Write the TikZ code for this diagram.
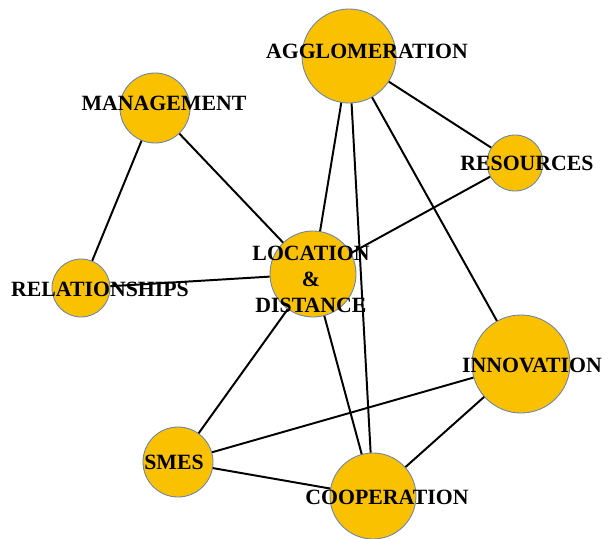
\documentclass[tikz,border=0pt]{standalone}
\usepackage{fontspec}
\setmainfont{Liberation Serif}
\usepackage{tikz}
\usetikzlibrary{positioning}
\definecolor{gold}{RGB}{250,193,0}
\definecolor{rim}{RGB}{104,130,172}
\tikzset{
    bubble/.style ={circle, draw=rim, fill=gold, line width=0.6pt, inner sep=0pt},
    tag/.style = {inner sep=0pt, font=\fontsize{15.5}{18.5}\selectfont\bfseries, align=center},
    link/.style = {draw=black, line width=1.4pt}
    }

\begin{document}
\begin{tikzpicture}[
      x=0.025cm, y=-0.025cm, % one unit per pixel
      semithick % line style
    ]
    \useasboundingbox (0,0) rectangle (612,539);

    \node[bubble, minimum size=2.35cm] (1) at (349,56) {};
    \node[bubble, minimum size=1.75cm] (2) at (155,108) {};
    \node[bubble, minimum size=1.40cm] (3) at (515,163) {};
    \node[bubble, minimum size=1.45cm] (4) at (81,288) {};
    \node[bubble, minimum size=2.15cm] (5) at (313,274) {};
    \node[bubble, minimum size=2.45cm] (6) at (521,364) {};
    \node[bubble, minimum size=1.75cm] (7) at (178,462) {};
    \node[bubble, minimum size=2.15cm] (8) at (373,496) {};

    \path (2) edge[link] (4);
    \path (2) edge[link] (5);
    \path (4) edge[link] (5);
    
    \path (1) edge[link] (5);
    \path (1) edge[link] (8);
    \path (1) edge[link] (3);
    \path (1) edge[link] (6);
    
    \path (5) edge[link] (3);
    \path (5) edge[link] (7);
    \path (5) edge[link] (8);
    
    \path (7) edge[link] (6);
    \path (7) edge[link] (8);
    \path (6) edge[link] (8);

    \node[tag] (1t) at (367,51) {AGGLOMERATION};
    \node[tag] (2t) at (164,103) {MANAGEMENT};
    \node[tag] (3t) at (527,163) {RESOURCES};
    \node[tag] (4t) at (100,289) {RELATIONSHIPS};
    \node[tag] (5t) at (311,279) {LOCATION\\\&\\DISTANCE};
    \node[tag] (6t) at (532,365) {INNOVATION};
    \node[tag] (7t) at (174,462) {SMES};
    \node[tag] (8t) at (387,497) {COOPERATION};
\end{tikzpicture}
\end{document}
